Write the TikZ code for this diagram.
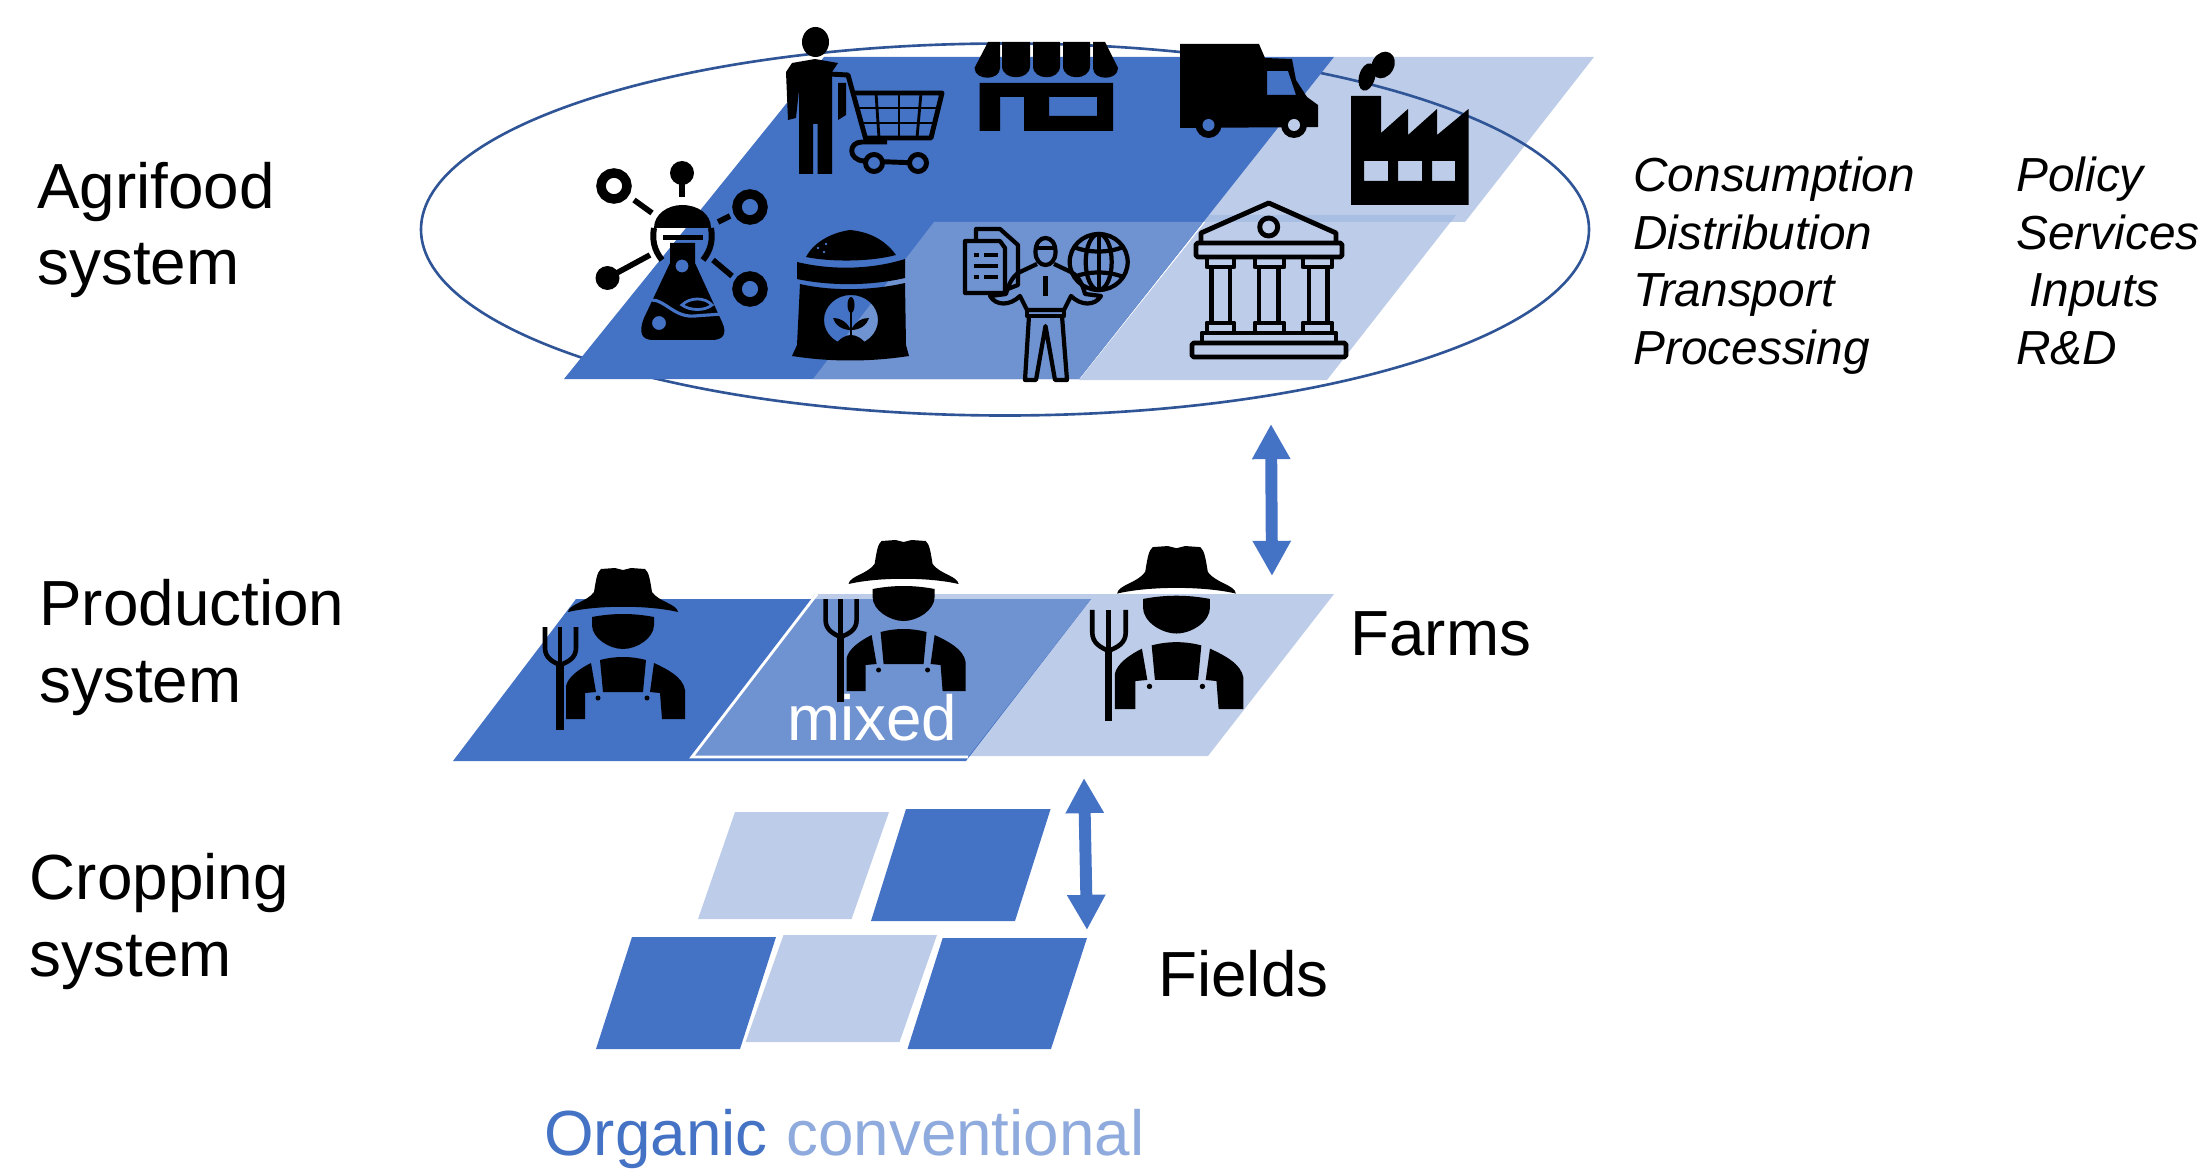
\documentclass[tikz,border=0pt]{standalone}
\usepackage{fontspec}
\setmainfont{Liberation Sans}
\usetikzlibrary{arrows.meta}
\definecolor{organic}{HTML}{4472C4}
\definecolor{mixedblue}{HTML}{6F92D0}
\definecolor{conv}{HTML}{BDCDE9}
\definecolor{convoverlap}{HTML}{A9BEE3}
\definecolor{convtext}{HTML}{8FAADC}
\definecolor{ring}{HTML}{2F5597}
\tikzset{
	icon/.style={fill=black},
	iconline/.style={draw=black, line width=2.8pt, line join=round},
	iconthin/.style={draw=black, line width=2.4pt, line join=round},
	farmer/.pic={
		% hat
		\fill[icon] (-55,-38) .. controls (-54,-46) and (-36,-48) .. (-29,-58) .. controls (-27,-70) and (-26,-78) .. (-22,-81) -- (-8,-82) -- (0,-80) -- (8,-82) -- (22,-81) .. controls (26,-78) and (27,-70) .. (29,-58) .. controls (36,-48) and (54,-46) .. (55,-38) .. controls (25,-45) and (-25,-45) .. (-55,-38) -- cycle;
		% face
		\fill[icon] (-31,-33) .. controls (-10,-37) and (10,-37) .. (31,-33) -- (31,-25) .. controls (31,-12) and (14,-1) .. (0,-1) .. controls (-14,-1) and (-31,-12) .. (-31,-25) -- cycle;
		% overalls
		\fill[icon] (-23,10) .. controls (-8,6) and (8,6) .. (23,10) -- (20,42) -- (-20,42) -- cycle;
		\fill[icon] (-32,13) .. controls (-44,19) and (-55,27) .. (-57,36) -- (-57,69) -- (-38,69) -- (-38,43) -- (-27,42) -- cycle;
		\fill[icon] (31,13) .. controls (44,19) and (60,27) .. (62,40) -- (62,69) -- (39,69) -- (37,43) -- (27,42) -- cycle;
		\fill[icon] (-25,48) circle (2.5);
		\fill[icon] (24,48) circle (2.5);
		% fork
		\draw[black, line width=4pt] (-63,12) -- (-63,80);
		\draw[black, line width=2.6pt] (-78,-23) -- (-78,-2) .. controls (-78,8) and (-70,12) .. (-63,15);
		\draw[black, line width=2.6pt] (-47,-23) -- (-47,-2) .. controls (-47,8) and (-55,12) .. (-63,15);
		\draw[black, line width=2.6pt] (-63,-23) -- (-63,15);
	}
}
\begin{document}
\begin{tikzpicture}%
	[x={(0.020000cm, 0.000000cm)},
	y={(0.000000cm, -0.020000cm)},
	organicfacet/.style={fill=organic},
	mixedfacet/.style={fill=mixedblue},
	convfacet/.style={fill=conv},
	systemtext/.style={font=\fontsize{36.3}{43.8}\selectfont, inner sep=0pt, align=left, anchor=base west},
	listtext/.style={font=\fontsize{27.2}{32.7}\selectfont\itshape, inner sep=0pt, align=left, anchor=base west},
	linkarrow/.style={draw=organic, line width=6.8pt, {Triangle[length=20pt,width=20.5pt]}-{Triangle[length=20pt,width=20.5pt]}}]
%
\useasboundingbox (0,0) rectangle (2202,1169);
%%
%%
%% Agrifood system, facets
%%
\fill[convfacet] (1334,57) -- (1594,57) -- (1465,222) -- (1203,222) -- cycle {};
\fill[convfacet] (1079,380) -- (1211,215) -- (1456,215) -- (1327,380) -- cycle {};
\fill[convoverlap] (1208,215) -- (1456,215) -- (1451,222) -- (1203,222) -- cycle {};
\draw[ring, line width=1.5pt] (1005,229.5) ellipse [x radius=584, y radius=186];
\fill[organicfacet] (564,379) -- (824,57) -- (1334,57) -- (1079,379) -- cycle {};
\fill[mixedfacet] (813,379) -- (934,222) -- (1203,222) -- (1079,379) -- cycle {};
%%
%%
%% Drawing the icons
%%
% consumer with cart
\fill[icon] (815.5,42) ellipse [x radius=13.5, y radius=15];
\fill[icon] (788,120) -- (786,72) -- (792,63) -- (815,59) -- (838,63) -- (832,72) -- (832,174) -- (817.5,174) -- (817.5,124) -- (813,124) -- (813,174) -- (799,174) -- (799,90) -- (796,118) -- cycle {};
\fill[icon] (838,83) -- (846,83) -- (846,115) -- (838,120) -- cycle {};
\draw[iconline] (829,74) -- (848,75) -- (866,140);
\draw[iconline] (851,93) -- (942,93) -- (931,138) -- (864,138);
\draw[black, line width=1.6pt] (856,108) -- (938,108);
\draw[black, line width=1.6pt] (860,123) -- (935,123);
\draw[black, line width=1.6pt] (876,93) -- (879,138);
\draw[black, line width=1.6pt] (899,93) -- (899,138);
\draw[black, line width=1.6pt] (921,93) -- (917,138);
\draw[iconline] (887,142) -- (862,142) .. controls (848,142) and (848,160) .. (864,161) -- (918,163);
\draw[iconline, fill=organic] (874,163) circle (8.5);
\draw[iconline, fill=organic] (918,163) circle (8.5);
% shop
\fill[icon] (988,42) -- (1000,42) -- (1000,68) .. controls (1000,81) and (975,81) .. (974.5,68) -- cycle {};
\fill[icon] (1002,42) -- (1030,42) -- (1030,66) .. controls (1030,81) and (1002,81) .. (1002,66) -- cycle {};
\fill[icon] (1033,42) -- (1060,42) -- (1060,66) .. controls (1060,81) and (1033,81) .. (1033,66) -- cycle {};
\fill[icon] (1063,42) -- (1090,42) -- (1090,66) .. controls (1090,81) and (1063,81) .. (1063,66) -- cycle {};
\fill[icon] (1093,42) -- (1105,42) -- (1118,68) .. controls (1118,81) and (1093,81) .. (1093,68) -- cycle {};
\fill[icon, even odd rule] (979.5,83) -- (1113,83) -- (1113,131) -- (1024,131) -- (1024,97) -- (1000,97) -- (1000,131) -- (979.5,131) -- cycle {} (1049,97) rectangle (1097,116);
% truck
\fill[icon, even odd rule] (1180,44) -- (1259,44) -- (1265,58) -- (1292,59) -- (1296,80) -- (1307,97) -- (1318,105) -- (1318,127) -- (1180,128) -- cycle {} (1267,71) -- (1288,71) -- (1296,95) -- (1267,95) -- cycle {};
\fill[icon] (1208.5,125) circle (13);
\fill[icon] (1294,125) circle (13);
\fill[organic] (1208.5,125) circle (6);
\fill[conv] (1294,125) circle (6);
% factory
\fill[icon, even odd rule] (1351,96) -- (1381,96) -- (1381,133) -- (1408,109) -- (1408,135) -- (1437,109) -- (1437,135) -- (1468.5,109) -- (1468.5,205) -- (1351,205) -- cycle {} (1364,161) rectangle (1388,181) (1398,161) rectangle (1422,181) (1432,161) rectangle (1455,181);
\fill[icon, rotate around={-30:(1383,65)}] (1383,65) ellipse [x radius=11, y radius=14];
\fill[icon, rotate around={-15:(1367,77)}] (1367,77) ellipse [x radius=8, y radius=14];
% flask with molecules
\fill[icon] (654,228) .. controls (654,214) and (668,205) .. (682,205) .. controls (698,205) and (711,214) .. (711,228) -- cycle {};
\draw[black, line width=3.4pt] (654,228) .. controls (652,240) and (654,250) .. (662,260);
\draw[black, line width=3.4pt] (711,228) .. controls (713,240) and (711,250) .. (703,260);
\fill[icon] (663,235) rectangle (703,240);
\fill[icon, even odd rule] (670,243) -- (695,243) -- (695,263) -- (722,322) .. controls (728,335) and (722,340) .. (712,340) -- (653,340) .. controls (642,340) and (638,333) .. (644,318) -- (670,263) -- cycle {} (682,266) circle (6.5) (659,323) circle (7);
\draw[organic, line width=1.8pt] (652,300) .. controls (665,300) and (675,318) .. (695,316) .. controls (705,315) and (712,315) .. (720,314);
\draw[organic, line width=1.6pt] (682,305) .. controls (690,297) and (705,297) .. (712,305) .. controls (705,311) and (690,311) .. (682,305) -- cycle {};
\draw[black, line width=5.4pt] (614,186) circle (13);
\draw[black, line width=5.4pt] (750,207) circle (13);
\draw[black, line width=5.4pt] (750,289) circle (13);
\fill[icon] (682,173) circle (12);
\fill[icon] (607.5,278) circle (12);
\draw[black, line width=3.2pt] (682,180) -- (682,197);
\draw[black, line width=3.2pt] (607.5,278) -- (650,255);
\draw[black, line width=3.2pt] (634,200) -- (652,213);
\draw[black, line width=3.2pt] (718,222) -- (730,216);
\draw[black, line width=3.2pt] (713,260) -- (732,276);
% sack
\fill[icon] (806,257) .. controls (815,240) and (835,232) .. (850,230) .. controls (870,232) and (885,240) .. (896,255) .. controls (870,262) and (830,262) .. (806,257) -- cycle {};
\fill[organic] (818,248) circle (1.3);
\fill[organic] (826,244) circle (1.3);
\fill[organic] (824,252) circle (1.3);
\fill[icon] (797,262) .. controls (830,270) and (870,270) .. (905,259) -- (905,278) .. controls (870,286) and (830,286) .. (797,279) -- cycle {};
\fill[icon, even odd rule] (800,284) .. controls (830,291) and (870,291) .. (905,283) -- (906,345) -- (909,356) .. controls (870,362) and (830,362) .. (792,356) -- (797,345) -- cycle {} (851,320) ellipse [x radius=27, y radius=25];
\fill[icon] (835,345) .. controls (840,338) and (846,335) .. (851,335) .. controls (856,335) and (862,338) .. (867,345) -- cycle {};
\fill[icon] (851,305) ellipse [x radius=3.5, y radius=8];
\draw[black, line width=1.4pt] (851,305) -- (851,338);
\fill[icon] (851,330) .. controls (846,320) and (838,318) .. (833,318) .. controls (835,325) and (842,330) .. (851,330) -- cycle {};
\fill[icon] (851,330) .. controls (856,320) and (864,318) .. (869,318) .. controls (867,325) and (860,330) .. (851,330) -- cycle {};
% adviser with document and globe
\draw[iconthin] (1035.5,252) .. controls (1035.5,243) and (1040,238) .. (1045.5,238) .. controls (1051,238) and (1055.5,243) .. (1055.5,252) .. controls (1055.5,260) and (1051,265) .. (1045.5,265) .. controls (1040,265) and (1035.5,260) .. (1035.5,252) -- cycle {};
\draw[iconthin] (1036,248) -- (1055,248);
\draw[iconthin] (1037,264) -- (1020,272) .. controls (1012,276) and (1008,286) .. (1006,294) -- (990,296) .. controls (996,306) and (1010,306) .. (1020,296) -- (1027,310) -- (1064,310) -- (1071,296) .. controls (1081,306) and (1095,306) .. (1101,296) -- (1085,294) .. controls (1083,286) and (1079,276) .. (1071,272) -- (1054,264);
\draw[iconthin] (1027,310) rectangle (1064,316);
\draw[iconthin] (1029,316) -- (1025,380) -- (1036,380) -- (1045.5,326) -- (1055,380) -- (1067,380) -- (1062,316);
\draw[black, line width=2.4pt] (1045.5,276) -- (1045.5,296);
\draw[iconthin] (965,241) -- (1000,241) -- (1005,248) -- (1005,293) -- (965,293) -- cycle {};
\draw[iconthin] (976,241) -- (976,229) -- (1000,229) -- (1018,245) -- (1018,285) -- (1005,290);
\draw[black, line width=2pt] (973.5,255) -- (979,255);
\draw[black, line width=2pt] (984,255) -- (998,255);
\draw[black, line width=2pt] (973.5,266) -- (998,266);
\draw[black, line width=2pt] (973.5,277) -- (979,277);
\draw[black, line width=2pt] (984,277) -- (998,277);
\draw[iconthin] (1098.7,262) ellipse [x radius=29, y radius=28];
\draw[iconthin] (1098.7,262) ellipse [x radius=13, y radius=28];
\draw[iconthin] (1098.7,234) -- (1098.7,290);
\draw[iconthin] (1074,247) .. controls (1088,253) and (1109,253) .. (1123,247);
\draw[iconthin] (1074,277) .. controls (1088,271) and (1109,271) .. (1123,277);
% bank
\draw[iconline] (1201,243) -- (1201,233) -- (1268.7,203) -- (1336,233) -- (1336,243);
\draw[iconline] (1268.7,227) circle (9);
\draw[iconline, rounded corners=1pt] (1196,243) rectangle (1342,257);
\draw[iconline] (1207,257) rectangle (1234,267);
\draw[iconline] (1255,257) rectangle (1284,267);
\draw[iconline] (1303,257) rectangle (1332,267);
\draw[iconline] (1211.5,267) rectangle (1230,323);
\draw[iconline] (1259,267) rectangle (1278.5,323);
\draw[iconline] (1309,267) rectangle (1327.5,323);
\draw[iconline] (1207,323) rectangle (1234,333);
\draw[iconline] (1255,323) rectangle (1284,333);
\draw[iconline] (1303,323) rectangle (1332,333);
\draw[iconline] (1202,333) rectangle (1336,343);
\draw[iconline, rounded corners=1pt] (1192,343) rectangle (1346,357);
%%
%%
%% Production system
%%
\fill[convfacet] (815,594) -- (1334,594) -- (1208,756) -- (692,756) -- cycle {};
\fill[organicfacet] (453,761) -- (576,599) -- (1091,599) -- (966,761) -- cycle {};
\fill[mixedfacet] (692,757) -- (815,599) -- (1091,599) -- (968,757) -- cycle {};
\draw[white, line width=1.6pt] (817,594) -- (692,757) -- (968,757);
\pic at (623,650) {farmer};
\pic at (903.6,622) {farmer};
\pic[scale=1.08] at (1176.5,634.6) {farmer};
%%
%%
%% Cropping system
%%
\fill[convfacet] (735,812) -- (889,812) -- (851.6,919) -- (698,919) -- cycle {};
\fill[organicfacet] (906,809) -- (1050.6,809) -- (1015,921) -- (871,921) -- cycle {};
\fill[organicfacet] (632,937) -- (776,937) -- (740,1049) -- (596,1049) -- cycle {};
\fill[convfacet] (783.5,935) -- (937,935) -- (899.5,1042) -- (745.6,1042) -- cycle {};
\fill[organicfacet] (942.7,938) -- (1087,938) -- (1051,1049) -- (907.5,1049) -- cycle {};
%%
%%
%% Links between the levels
%%
\coordinate (agrilink) at (1271,424);
\coordinate (farmlink) at (1272,576);
\coordinate (farmslink) at (1084,778);
\coordinate (fieldlink) at (1087,930);
\draw[linkarrow] (agrilink) -- (farmlink);
\draw[linkarrow] (farmslink) -- (fieldlink);
%%
%%
%% Labels
%%
\node[systemtext] (agrifoodlabel) at (37,285) {Agrifood\\system};
\node[systemtext] (productionlabel) at (39,702) {Production\\system};
\node[systemtext] (croppinglabel) at (29.5,976) {Cropping\\system};
\node[systemtext] (farmslabel) at (1350,655) {Farms};
\node[systemtext] (fieldslabel) at (1158,996) {Fields};
\node[systemtext, text=white] (mixedlabel) at (787,740) {mixed};
\node[systemtext, text=organic] (organiclabel) at (544,1155) {Organic};
\node[systemtext, text=convtext] (convlabel) at (786,1155) {conventional};
\node[listtext] (chainlabel) at (1633,364) {Consumption\\Distribution\\Transport\\Processing};
\node[listtext] (supportlabel) at (2016,364) {Policy\\Services\\\hspace{7.4pt}Inputs\\R\&D};
\end{tikzpicture}
\end{document}
